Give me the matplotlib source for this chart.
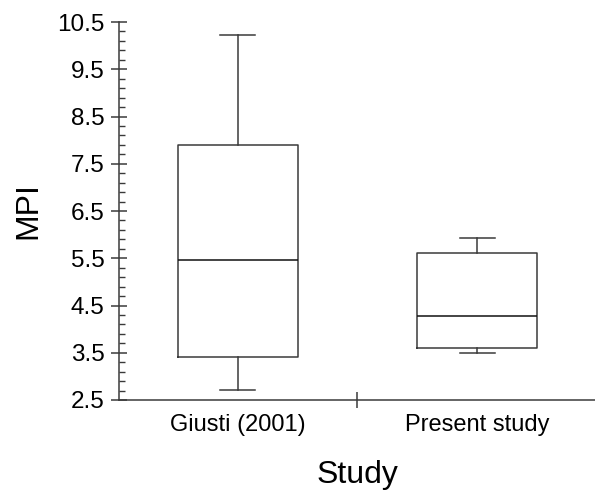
import matplotlib.pyplot as plt
import numpy as np

plt.rcParams['font.family'] = ['Liberation Sans', 'DejaVu Sans']

# MPI summary per study (whisker low, Q1, median, Q3, whisker high)
studies = ['Giusti (2001)', 'Present study']
whisker_low = [2.72, 3.49]
q1 = [3.42, 3.60]
median = [5.47, 4.28]
q3 = [7.90, 5.61]
whisker_high = [10.23, 5.93]

stats = []
for i, name in enumerate(studies):
    stats.append({'label': name, 'whislo': whisker_low[i], 'q1': q1[i], 'med': median[i],
                  'q3': q3[i], 'whishi': whisker_high[i], 'fliers': []})

fig = plt.figure(figsize=(5.95, 4.93), dpi=100)
ax = fig.add_axes([119 / 595, 93 / 493, 1 - 119 / 595, 378 / 493])

line_col = '#3a3a3a'
ax.bxp(stats, positions=[1, 2], widths=0.5, capwidths=0.145, showfliers=False,
       boxprops=dict(color=line_col, lw=1.1),
       medianprops=dict(color='#111111', lw=1.1),
       whiskerprops=dict(color=line_col, lw=1.1),
       capprops=dict(color=line_col, lw=1.1))

ax.set_xlim(0.506, 2.49)
ax.set_ylim(2.5, 10.5)

ax.spines['top'].set_visible(False)
ax.spines['right'].set_visible(False)
for s in ['left', 'bottom']:
    ax.spines[s].set_color(line_col)
    ax.spines[s].set_linewidth(1.1)

ax.set_yticks(np.arange(2.5, 10.6, 1.0))
ax.set_yticks(np.arange(2.5, 10.51, 0.2), minor=True)
ax.set_yticklabels([f'{v:.1f}' for v in np.arange(2.5, 10.6, 1.0)])
ax.tick_params(axis='y', which='major', direction='inout', length=11, width=1.1,
               color=line_col, labelsize=17.5, pad=5)
ax.tick_params(axis='y', which='minor', direction='in', length=4, width=1.0, color=line_col)

ax.set_xticks([1.5])
ax.set_xticklabels([''])
ax.set_xticks([1, 2], studies, minor=True)
ax.tick_params(axis='x', which='major', direction='inout', length=11, width=1.1, color=line_col)
ax.tick_params(axis='x', which='minor', length=0, labelsize=17, pad=10)

ax.set_ylabel('MPI', fontsize=23, labelpad=10)
ax.set_xlabel('Study', fontsize=23, labelpad=17)

fig.savefig('out.png', dpi=100)
